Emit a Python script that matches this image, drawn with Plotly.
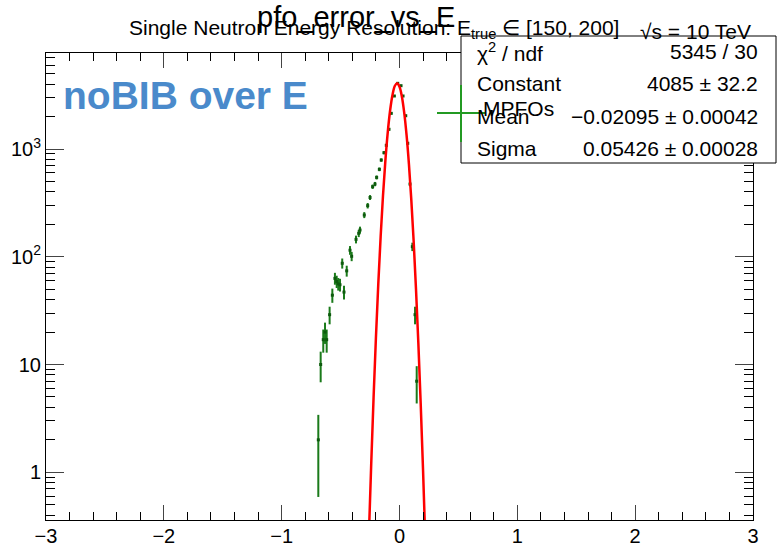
import plotly.graph_objects as go

# histogram points (bin centre, entries)
bin_x = [-0.689, -0.669, -0.647, -0.632, -0.618, -0.593, -0.570, -0.548, -0.533,
         -0.520, -0.505, -0.486, -0.471, -0.448, -0.420, -0.406, -0.369, -0.346,
         -0.335, -0.299, -0.270, -0.250, -0.228, -0.208, -0.194, -0.171, -0.155,
         -0.132, -0.112, -0.089, -0.070, -0.044, -0.015, 0.013, 0.030, 0.053,
         0.070, 0.089, 0.109, 0.132, 0.146]
counts = [2, 10, 17, 20, 17, 29, 44, 63, 59,
          56, 55, 87, 47, 74, 115, 101, 145, 165,
          177, 244, 298, 355, 447, 473, 545, 648, 790,
          924, 1082, 1524, 2143, 3105, 4070, 3870, 3105, 2036,
          1130, 473, 124, 29, 7]
count_err = [1.41, 3.16, 4.12, 4.47, 4.12, 5.39, 6.63, 7.94, 7.68,
             7.48, 7.42, 9.33, 6.86, 8.60, 10.7, 10.0, 12.0, 12.8,
             13.3, 15.6, 17.3, 18.8, 21.1, 21.7, 23.3, 25.5, 28.1,
             30.4, 32.9, 39.0, 46.3, 55.7, 63.8, 62.2, 55.7, 45.1,
             33.6, 21.7, 11.1, 5.39, 2.65]

# gaussian fit curve, sampled
fit_x = [-0.26, -0.24, -0.22, -0.20, -0.18, -0.16, -0.14, -0.12, -0.10, -0.08,
         -0.06, -0.04, -0.021, 0.00, 0.02, 0.04, 0.06, 0.08, 0.10, 0.12,
         0.14, 0.16, 0.18, 0.20, 0.22]
fit_y = [0.256, 1.2, 4.95, 17.8, 56, 154, 370, 775, 1418, 2264,
         3157, 3843, 4085, 3790, 3072, 2174, 1343, 724, 341, 140,
         50, 15.8, 4.3, 1.03, 0.215]

stat_labels = ["χ<sup>2</sup> / ndf", "Constant", "Mean", "Sigma"]
stat_values = ["5345 / 30", "4085 ± 32.2", "−0.02095 ± 0.00042", "0.05426 ± 0.00028"]

y_ticks = [1, 10, 100, 1000]
y_ticktext = ["1", "10", "10<sup>2</sup>", "10<sup>3</sup>"]

FONT = "Liberation Sans"
GREEN = "#1a7a1a"

# plot frame in pixels
L, R, T, B = 46, 753, 53, 520


def px(x):
    return (x - L) / (R - L)


def py(y):
    return (B - y) / (B - T)


fig = go.Figure()
fig.add_trace(go.Scatter(
    x=bin_x, y=counts, mode="markers",
    marker=dict(symbol="square", size=3, color="#0d5a0d"),
    error_y=dict(type="data", array=count_err, color=GREEN, thickness=2, width=0),
    showlegend=False,
))
fig.add_trace(go.Scatter(
    x=fit_x, y=fit_y, mode="lines", line=dict(color="#ff0000", width=2.5, shape="spline"),
    showlegend=False,
))

minor_y = [m * 10 ** e for e in range(-1, 4) for m in range(2, 10)]

fig.update_layout(
    width=777, height=553,
    margin=dict(l=L, r=777 - R, t=T, b=553 - B),
    paper_bgcolor="white", plot_bgcolor="white",
    font=dict(family=FONT, size=21, color="black"),
    xaxis=dict(range=[-3, 3], dtick=1, tick0=0, ticks="inside", ticklen=15,
               showline=True, linecolor="black", linewidth=1, mirror="ticks",
               showgrid=False, zeroline=False, ticklabelstandoff=-2, automargin=False,
               tickfont=dict(size=20),
               minor=dict(dtick=0.2, ticks="inside", ticklen=8, tickcolor="black")),
    yaxis=dict(type="log", range=[-0.443, 3.891], tickvals=y_ticks, ticktext=y_ticktext,
               ticks="inside", ticklen=18, showline=True, linecolor="black", linewidth=1,
               mirror="ticks", showgrid=False, zeroline=False, automargin=False,
               tickfont=dict(size=20),
               minor=dict(tickvals=minor_y, ticks="inside", ticklen=9, tickcolor="black")),
)

# stats box
fig.add_shape(type="rect", xref="paper", yref="paper",
              x0=px(461), x1=px(776), y0=py(163), y1=py(36),
              fillcolor="white", line=dict(color="black", width=1), layer="above")
for i, (lab, val) in enumerate(zip(stat_labels, stat_values)):
    yc = py(52 + 32 * i)
    fig.add_annotation(text=lab, x=px(475), y=yc, xref="paper", yref="paper",
                       xanchor="left", yanchor="middle", showarrow=False)
    fig.add_annotation(text=val, x=px(760), y=yc, xref="paper", yref="paper",
                       xanchor="right", yanchor="middle", showarrow=False)

# legend entry overlapping the box
fig.add_shape(type="line", xref="paper", yref="paper", x0=px(437), x1=px(485),
              y0=py(113), y1=py(113), line=dict(color="#239a23", width=2), layer="above")
fig.add_shape(type="line", xref="paper", yref="paper", x0=px(461), x1=px(461),
              y0=py(85), y1=py(142), line=dict(color="#239a23", width=2), layer="above")
fig.add_annotation(text="MPFOs", x=px(481), y=py(108), xref="paper", yref="paper",
                   xanchor="left", yanchor="middle", showarrow=False)

# titles
fig.add_annotation(text="Single Neutron Energy Resolution: E<sub>true</sub> ∈ [150, 200]",
                   x=px(127), y=py(29), xref="paper", yref="paper",
                   xanchor="left", yanchor="middle", showarrow=False)
fig.add_annotation(text="√s = 10 TeV", x=px(638), y=py(31), xref="paper", yref="paper",
                   xanchor="left", yanchor="middle", showarrow=False)
fig.add_annotation(text="pfo_error_vs_E", x=px(356), y=py(17), xref="paper", yref="paper",
                   xanchor="center", yanchor="middle", showarrow=False,
                   font=dict(size=29))
fig.add_annotation(text="<b>noBIB over E</b>", x=px(61), y=py(95), xref="paper", yref="paper",
                   xanchor="left", yanchor="middle", showarrow=False,
                   font=dict(size=39, color="#4a8acb"))

# drop the page's default body margin so the figure sits at the window corner
fig.write_html("out.html", post_script="document.body.style.margin='0';",
               config={"displayModeBar": False})
